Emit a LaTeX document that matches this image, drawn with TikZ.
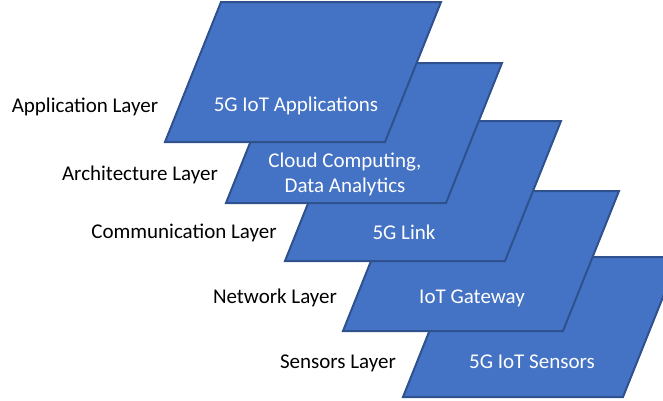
\documentclass[tikz,border=0pt]{standalone}
\usepackage{fontspec}
\setmainfont{Carlito}
\definecolor{layerfill}{HTML}{4472C4}
\definecolor{layeredge}{HTML}{2F528F}
\begin{document}
\begin{tikzpicture}[x=1pt,y=-1pt,
  layerbox/.style={fill=layerfill, draw=layeredge, line width=2pt, line join=miter},
  intext/.style={text=white, font=\fontsize{21}{25}\selectfont, align=center, inner sep=0pt},
  sidelabel/.style={text=black, font=\fontsize{21}{25}\selectfont, inner sep=0pt}]
\useasboundingbox (0,0) rectangle (663,400);
\clip (0,0) rectangle (663,400);
% one slab: bottom-left corner, width 220, height 140, leaning right by 56
\newcommand\layerslab[2]{%
  \draw[layerbox] (#1,#2) -- ++(220,0) -- ++(56,-140) -- ++(-220,0) -- cycle;}
% bottom slab first so the upper ones overlap it
\layerslab{403}{397}
\node[intext] (t5) at (532,362) {5G IoT Sensors};
\layerslab{343}{331}
\node[intext] (t4) at (472,298) {IoT Gateway};
\layerslab{285}{261}
\node[intext] (t3) at (404,232) {5G Link};
\layerslab{226}{203}
\node[intext] (t2) at (345,174) {Cloud Computing,\\Data Analytics};
\layerslab{165}{142}
\node[intext] (t1) at (296,106) {5G IoT Applications};
% layer names on the left
\node[sidelabel] (l1) at (85,107) {Application Layer};
\node[sidelabel] (l2) at (140,175) {Architecture Layer};
\node[sidelabel] (l3) at (184,233) {Communication Layer};
\node[sidelabel] (l4) at (275,298) {Network Layer};
\node[sidelabel] (l5) at (338,363) {Sensors Layer};
\end{tikzpicture}
\end{document}
